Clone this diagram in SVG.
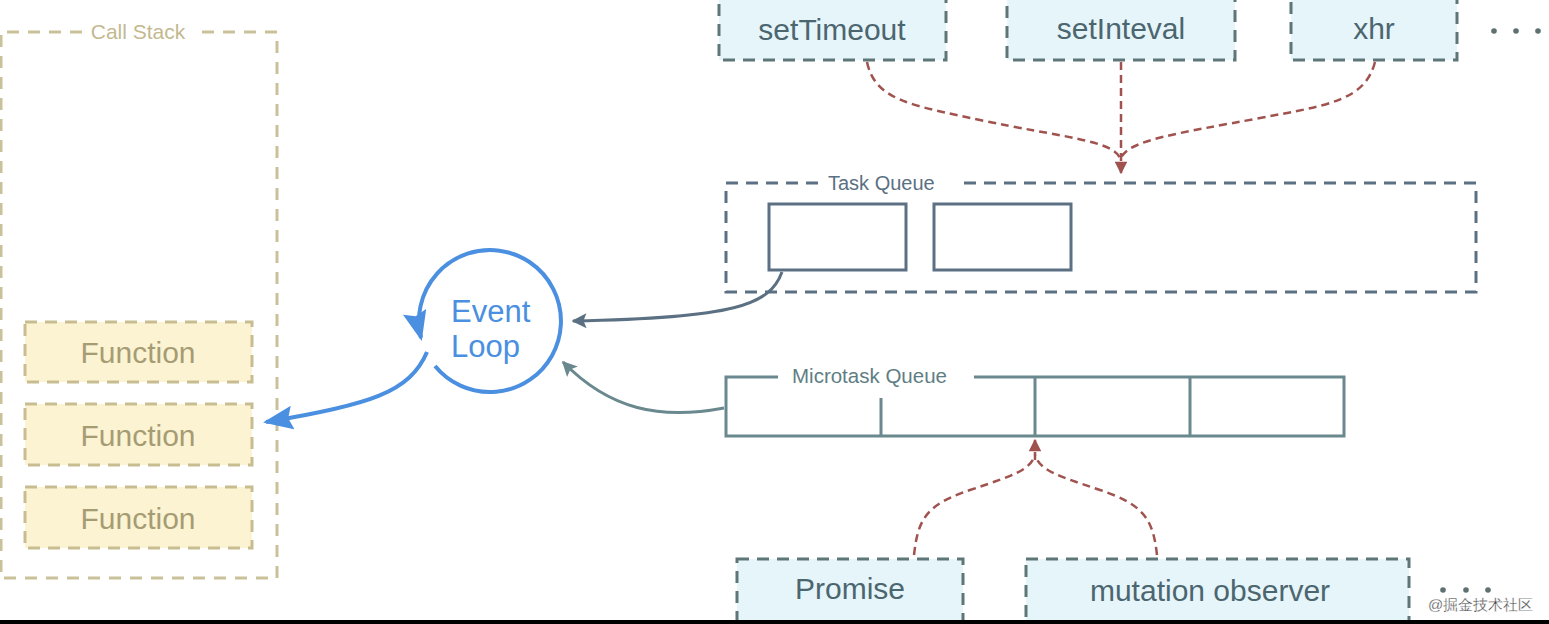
<svg xmlns="http://www.w3.org/2000/svg" width="1549" height="624" viewBox="0 0 1549 624">
<style>
text{font-family:"Liberation Sans","Noto Sans",Arial,sans-serif}
.cs{fill:none;stroke:#c9c19a;stroke-width:3;stroke-dasharray:12 9}
.fn rect{fill:#fcf3d3;stroke:#c8bd90;stroke-width:3;stroke-dasharray:12 8}
.fn text{fill:#a69c73;font-size:30px;text-anchor:middle}
.src rect{fill:#e6f5fa;stroke:#5e7677;stroke-width:3;stroke-dasharray:12 8}
.src text{fill:#4c6670;font-size:30px;text-anchor:middle}
.tq{fill:none;stroke:#5b7083;stroke-width:3}
.mq{fill:none;stroke:#6a898e;stroke-width:3}
.red{fill:none;stroke:#a0524e;stroke-width:2.5;stroke-dasharray:8 5}
.dot{fill:#5e7070}
</style>
<defs>
<marker id="ar" viewBox="0 0 10 10" refX="9" refY="5" markerWidth="5.5" markerHeight="5" orient="auto"><path d="M0,0 L10,5 L0,10 z" fill="#a0524e"/></marker>
<marker id="ab" viewBox="0 0 10 8" refX="9" refY="4" markerWidth="7.5" markerHeight="6" orient="auto"><path d="M0,0 L10,4 L0,8 L1.5,4 z" fill="#4a8fe0"/></marker>
<marker id="at" viewBox="0 0 10 10" refX="9" refY="5" markerWidth="6" markerHeight="5" orient="auto"><path d="M0,0 L10,5 L0,10 L2,5 z" fill="#5b7083"/></marker>
<marker id="am" viewBox="0 0 10 10" refX="9" refY="5" markerWidth="6" markerHeight="5" orient="auto"><path d="M0,0 L10,5 L0,10 L2,5 z" fill="#6a898e"/></marker>
</defs>
<rect width="1549" height="624" fill="#fff"/>

<g id="call-stack">
<path class="cs" d="M82,32 L1,32 L1,578 L277,578 L277,32 L195,32"/>
<text x="138" y="39" font-size="21" fill="#c3b98f" text-anchor="middle">Call Stack</text>
</g>
<g id="function-1" class="fn"><rect x="25" y="322" width="227" height="60"/><text x="138" y="363">Function</text></g>
<g id="function-2" class="fn"><rect x="25" y="404" width="227" height="61"/><text x="138" y="446">Function</text></g>
<g id="function-3" class="fn"><rect x="25" y="487" width="227" height="61"/><text x="138" y="529">Function</text></g>

<g id="event-loop">
<path d="M435,366 A71,71 0 1 0 421,338" fill="none" stroke="#4a8fe0" stroke-width="4" marker-end="url(#ab)"/>
<text x="451" y="322" font-size="31" fill="#4a8fe0">Event</text>
<text x="451" y="357" font-size="31" fill="#4a8fe0">Loop</text>
</g>

<g id="set-timeout" class="src"><rect x="719" y="-2" width="227" height="62"/><text x="832" y="40">setTimeout</text></g>
<g id="set-inteval" class="src"><rect x="1007" y="-2" width="228" height="62"/><text x="1121" y="39">setInteval</text></g>
<g id="xhr" class="src"><rect x="1291" y="-2" width="166" height="62"/><text x="1374" y="39">xhr</text></g>
<g id="more-top"><circle class="dot" cx="1494" cy="31" r="2.8"/><circle class="dot" cx="1516" cy="31" r="2.8"/><circle class="dot" cx="1538" cy="31" r="2.8"/></g>

<g id="task-queue">
<path class="tq" stroke-dasharray="12 8" d="M818,183 L726,183 L726,292 L1476,292 L1476,183 L956,183"/>
<text x="828" y="190" font-size="20" fill="#5b7083">Task Queue</text>
<rect class="tq" x="769" y="204" width="137" height="66"/>
<rect class="tq" x="934" y="204" width="137" height="66"/>
</g>

<g id="microtask-queue">
<path class="mq" d="M778,377 L726,377 L726,436 L1344,436 L1344,377 L974,377"/>
<path class="mq" d="M881,398 L881,436 M1035,377 L1035,436 M1190,377 L1190,436"/>
<text x="792" y="383" font-size="20.5" fill="#5f7e84">Microtask Queue</text>
</g>

<g id="promise" class="src"><rect x="737" y="559" width="226" height="66"/><text x="850" y="599">Promise</text></g>
<g id="mutation-observer" class="src"><rect x="1026" y="559" width="383" height="66"/><text x="1210" y="601">mutation observer</text></g>
<g id="more-bottom"><circle class="dot" cx="1443" cy="590" r="2.8"/><circle class="dot" cx="1466" cy="590" r="2.8"/><circle class="dot" cx="1488" cy="590" r="2.8"/></g>

<g id="connectors">
<path class="red" d="M867,62 C875,100 910,105 980,120 C1060,137 1112,140 1120,158"/>
<path class="red" d="M1375,62 C1365,100 1330,105 1260,118 C1180,133 1128,140 1121,158"/>
<path class="red" d="M1121,62 L1121,173" marker-end="url(#ar)"/>
<path class="red" d="M914,555 C918,520 925,505 970,490 C1015,475 1030,470 1035,455"/>
<path class="red" d="M1157,555 C1153,520 1145,505 1100,490 C1055,475 1040,470 1035,455"/>
<path class="red" d="M1035,460 L1035,440" marker-end="url(#ar)"/>
<path d="M427,352 C410,392 370,405 266,422" fill="none" stroke="#4a8fe0" stroke-width="4" marker-end="url(#ab)"/>
<path d="M782,272 C770,305 735,318 573,321" fill="none" stroke="#5b7083" stroke-width="3" marker-end="url(#at)"/>
<path d="M724,408 C660,420 610,410 563,362" fill="none" stroke="#6a898e" stroke-width="3" marker-end="url(#am)"/>
</g>

<rect x="0" y="620" width="1549" height="4" fill="#000"/>
<text x="1428" y="610" font-size="15" fill="#3a3a3a" stroke="#fff" stroke-width="0.3" font-family="'Noto Sans CJK SC',sans-serif">@掘金技术社区</text>
</svg>
